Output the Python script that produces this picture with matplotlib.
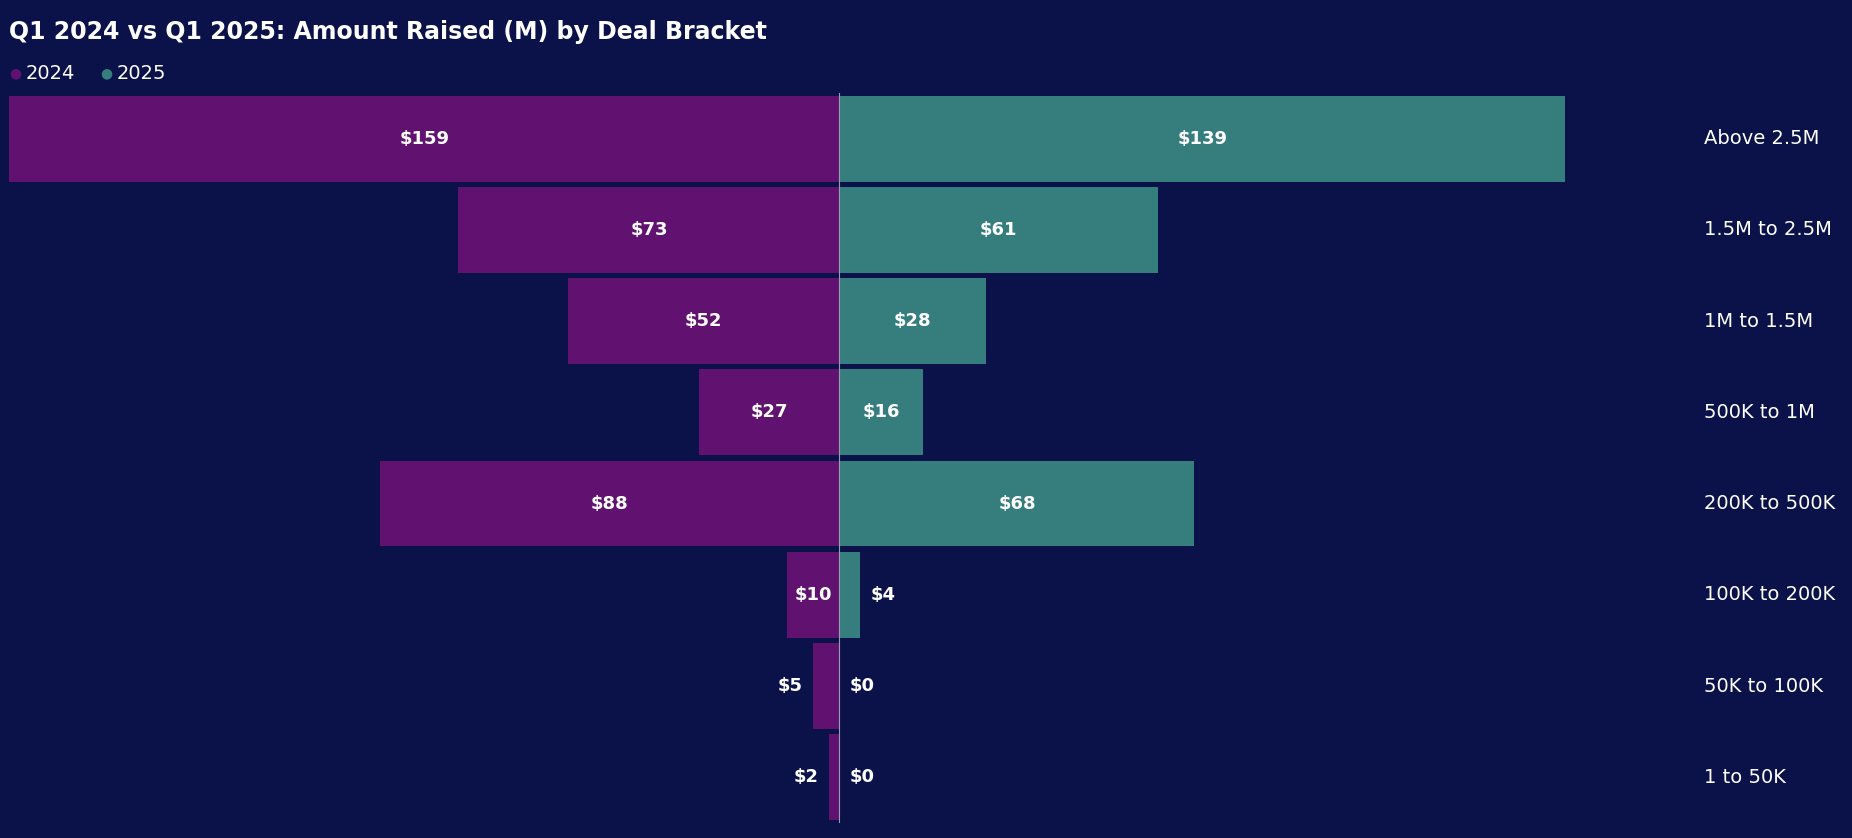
import matplotlib
matplotlib.use("Agg")
import matplotlib.pyplot as plt
import numpy as np

brackets = ["Above 2.5M", "1.5M to 2.5M", "1M to 1.5M", "500K to 1M",
            "200K to 500K", "100K to 200K", "50K to 100K", "1 to 50K"]
raised_2024 = [159, 73, 52, 27, 88, 10, 5, 2]
raised_2025 = [139, 61, 28, 16, 68, 4, 0, 0]

BG = "#0b1149"
C24 = "#611270"
C25 = "#367d7e"

fig = plt.figure(figsize=(18.52, 8.38), dpi=100, facecolor=BG)
ax = fig.add_axes([0.0051, 0.018, 0.840, 0.871])
ax.set_facecolor(BG)

y = np.arange(len(brackets))
ax.barh(y, [-v for v in raised_2024], height=0.94, color=C24)
ax.barh(y, raised_2025, height=0.94, color=C25)
ax.axvline(0, color="#9a9ab0", linewidth=0.8)

for i, (a, b) in enumerate(zip(raised_2024, raised_2025)):
    if a >= 8:
        ax.text(-a / 2, i, f"${a}", color="white", fontsize=13, fontweight="bold", ha="center", va="center")
    else:
        ax.text(-a - 2, i, f"${a}", color="white", fontsize=13, fontweight="bold", ha="right", va="center")
    if b >= 8:
        ax.text(b / 2, i, f"${b}", color="white", fontsize=13, fontweight="bold", ha="center", va="center")
    else:
        ax.text(b + 2, i, f"${b}", color="white", fontsize=13, fontweight="bold", ha="left", va="center")
    ax.text(1.0 + 0.075 / 0.84, i, brackets[i], transform=ax.get_yaxis_transform(),
            color="white", fontsize=14, ha="left", va="center")

ax.set_xlim(-159, 139)
ax.set_ylim(len(brackets) - 0.5, -0.5)
ax.axis("off")

fig.text(0.005, 0.962, "Q1 2024 vs Q1 2025: Amount Raised (M) by Deal Bracket",
         color="white", fontsize=17, fontweight="bold", ha="left", va="center")
fig.text(0.005, 0.912, "\u25cf", color=C24, fontsize=10, va="center")
fig.text(0.014, 0.912, "2024", color="white", fontsize=14, va="center")
fig.text(0.054, 0.912, "\u25cf", color=C25, fontsize=10, va="center")
fig.text(0.063, 0.912, "2025", color="white", fontsize=14, va="center")

fig.savefig("out.png", dpi=100, facecolor=BG)
